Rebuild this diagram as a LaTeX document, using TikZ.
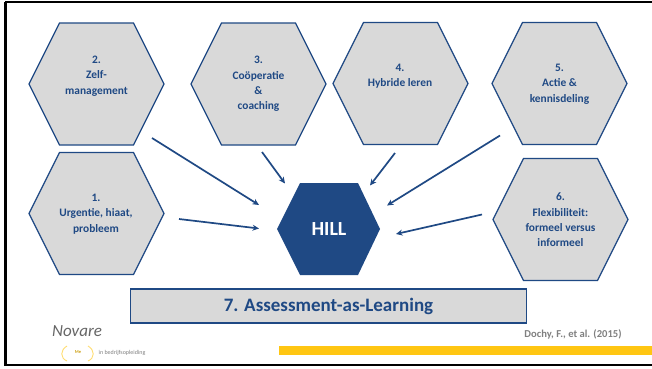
\documentclass[tikz,border=0pt]{standalone}
\usepackage{fontspec}
\setmainfont{Carlito}
\definecolor{hillblue}{RGB}{31,73,132}
\definecolor{hexgray}{RGB}{217,217,217}
\definecolor{baryellow}{RGB}{255,198,18}
\definecolor{citegray}{RGB}{128,128,128}
\usetikzlibrary{arrows.meta}
\tikzset{
  hexshape/.style={draw=hillblue,fill=hexgray,line width=1.3pt,line join=miter},
  hexlabel/.style={text=hillblue,font=\bfseries\fontsize{11.4}{15.4}\selectfont,align=center,inner sep=0pt},
  flow/.style={draw=hillblue,line width=1.7pt,-{Stealth[length=6.5pt,width=6pt]}}
}
\newcommand{\hexat}[3]{%
  \path[#3] (#1-67.5,#2) -- (#1-37,#2+61) -- (#1+37,#2+61) -- (#1+67.5,#2) -- (#1+37,#2-61) -- (#1-37,#2-61) -- cycle;}
\begin{document}
\begin{tikzpicture}[x=1pt,y=-1pt]
\useasboundingbox (0,0) rectangle (652,368);
\fill[white] (0,0) rectangle (652,368);
\draw[black,line width=2.4pt] (5,2.2) -- (652,2.2);
\draw[black,line width=2.4pt] (5.4,2.2) -- (5.4,365) -- (652,365);
% hexagons
\hexat{96.5}{84}{hexshape}
\hexat{258.5}{84}{hexshape}
\hexat{400.5}{83.5}{hexshape}
\hexat{559.5}{83.5}{hexshape}
\hexat{96.5}{213.5}{hexshape}
\hexat{560.5}{219.5}{hexshape}
\fill[hillblue] (277,229) -- (300,275) -- (358,275) -- (380,229) -- (358,183) -- (300,183) -- cycle;
% labels
\node[hexlabel] (h2) at (96.5,76) {2.\\Zelf-\\management};
\node[hexlabel] (h3) at (258.5,84) {3.\\Coöperatie\\\&\\coaching};
\node[hexlabel] (h4) at (400,76.3) {4.\\Hybride leren};
\node[hexlabel] (h5) at (559.5,84) {5.\\Actie \&\\kennisdeling};
\node[hexlabel] (h1) at (96,214) {1.\\Urgentie, hiaat,\\probleem};
\node[hexlabel] (h6) at (560.5,220) {6.\\Flexibiliteit:\\formeel versus\\informeel};
\node[text=white,font=\bfseries\fontsize{20}{22}\selectfont,inner sep=0pt] (hill) at (329,229) {HILL};
% assessment box
\node[draw=hillblue,fill=hexgray,line width=1.3pt,minimum width=396pt,minimum height=34pt,inner sep=0pt,
  text=hillblue,font=\bfseries\fontsize{19}{21}\selectfont] (box) at (328.5,306) {7. Assessment-as-Learning};
% arrows
\coordinate (a2s) at (152,138); \coordinate (a2e) at (259,205);
\coordinate (a1s) at (179,219); \coordinate (a1e) at (259,228.5);
\coordinate (a3s) at (262,152); \coordinate (a3e) at (285,183.5);
\coordinate (a4s) at (395,153); \coordinate (a4e) at (370,185.5);
\coordinate (a5s) at (500,135.5); \coordinate (a5e) at (387,205.5);
\coordinate (a6s) at (482,214.5); \coordinate (a6e) at (396,234);
\draw[flow] (a2s) -- (a2e);
\draw[flow] (a1s) -- (a1e);
\draw[flow] (a3s) -- (a3e);
\draw[flow] (a4s) -- (a4e);
\draw[flow] (a5s) -- (a5e);
\draw[flow] (a6s) -- (a6e);
% footer
\fill[baryellow] (279,346) rectangle (652,355);
\node[text=citegray,font=\bfseries\fontsize{10.6}{12}\selectfont,inner sep=0pt] (cite) at (573,334) {Dochy, F., et al. (2015)};
% logo
\node[text=black!60,font=\itshape\fontsize{17}{18}\selectfont,inner sep=0pt] (logo) at (77,331) {Novare};
\draw[baryellow!60,line width=0.9pt] (67,346) .. controls (60,350) and (60,358) .. (67,361);
\draw[baryellow!60,line width=0.9pt] (88,346) .. controls (95,350) and (95,358) .. (88,361);
\node[text=baryellow!80!black,font=\bfseries\fontsize{4.5}{5}\selectfont,inner sep=0pt] (logom) at (78,352) {Me};
\node[text=black!50,font=\fontsize{6}{7}\selectfont,inner sep=0pt] (logot) at (122,352.5) {in bedrijfsopleiding};
\end{tikzpicture}
\end{document}
